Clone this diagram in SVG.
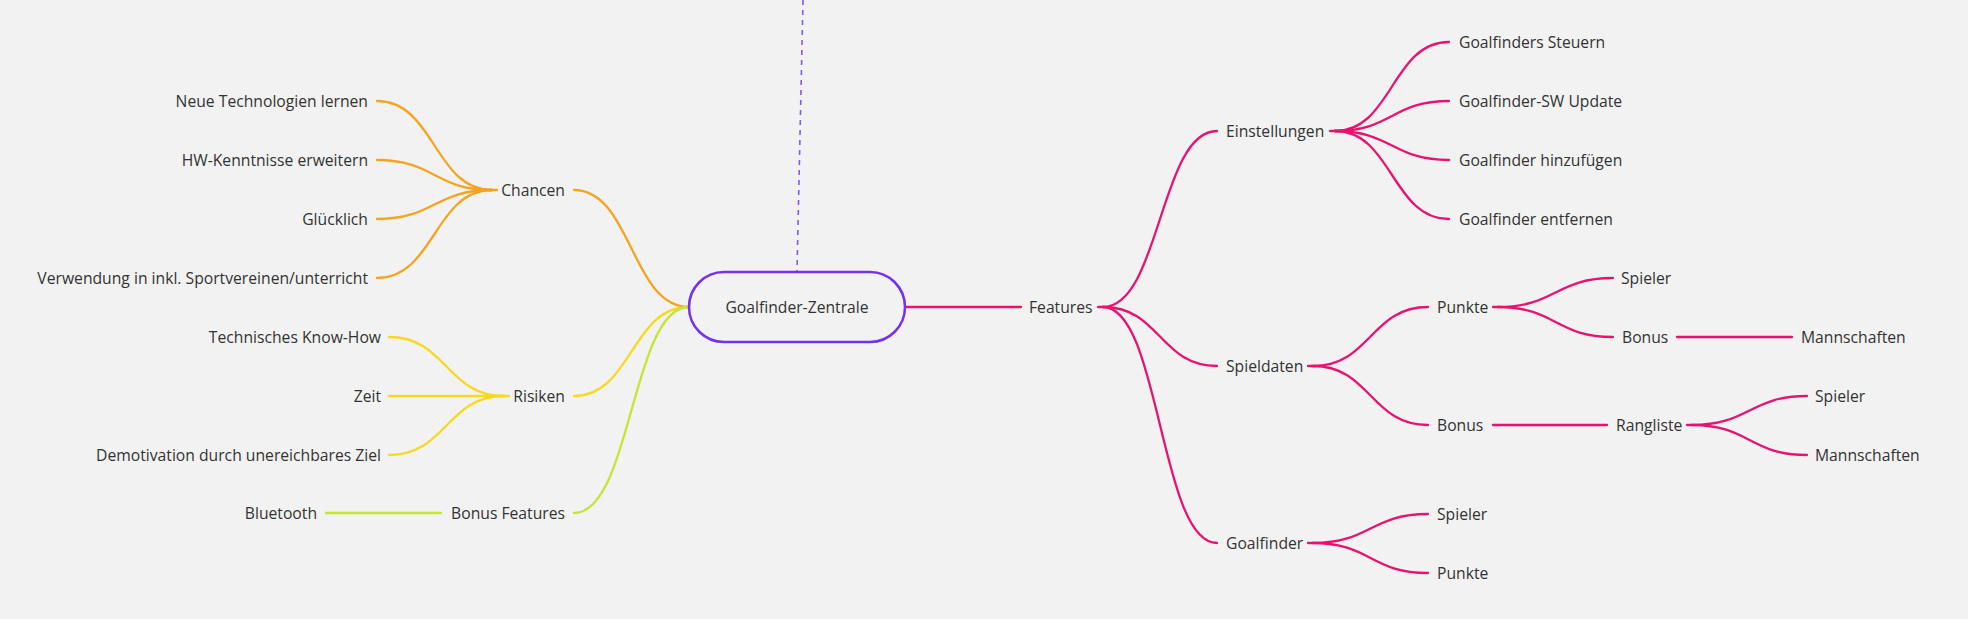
<svg xmlns="http://www.w3.org/2000/svg" width="1968" height="619" viewBox="0 0 1968 619">
<defs>
<style>
.t{font-family:"Open Sans","Noto Sans","Liberation Sans",sans-serif;font-size:15.7px;fill:#333333}
.e{text-anchor:end}
.m{text-anchor:middle}
.c{fill:none;stroke-width:2.3;stroke-linecap:round}
.or{stroke:#F4A51F}
.ye{stroke:#F7D920}
.li{stroke:#C3E533}
.pk{stroke:#E8136F}
</style>
</defs>
<rect width="1968" height="619" fill="#F2F2F2"/>
<g id="connectors">
<line x1="803" y1="0" x2="797" y2="271" stroke="#8457EE" stroke-width="1.6" stroke-dasharray="5,5"/>
<g class="c or">
<path d="M492,190 C434.5,190 434.5,101 377,101"/>
<path d="M492,190 C434.5,190 434.5,160 377,160"/>
<path d="M492,190 C434.5,190 434.5,219 377,219"/>
<path d="M492,190 C434.5,190 434.5,278 377,278"/>
<line x1="492" y1="190" x2="497" y2="190"/>
<path d="M689,307 C631.5,307 631.5,190 574,190"/>
</g>
<g class="c ye">
<path d="M504,396 C446.5,396 446.5,337 389,337"/>
<path d="M504,396 L389,396"/>
<path d="M504,396 C446.5,396 446.5,455 389,455"/>
<line x1="504" y1="396" x2="509" y2="396"/>
<path d="M689,307 C631.5,307 631.5,396 574,396"/>
</g>
<g class="c li">
<path d="M326,513 L441,513"/>
<path d="M689,307 C631.5,307 631.5,513 574,513"/>
</g>
<g class="c pk">
<path d="M905,307 L1021,307"/>
<path d="M1103,307 C1160,307 1160,131 1217,131"/>
<path d="M1103,307 C1160,307 1160,366 1217,366"/>
<path d="M1103,307 C1160,307 1160,543 1217,543"/>
<line x1="1098" y1="307" x2="1103" y2="307"/>
<path d="M1335,131 C1392,131 1392,42 1449,42"/>
<path d="M1335,131 C1392,131 1392,101 1449,101"/>
<path d="M1335,131 C1392,131 1392,160 1449,160"/>
<path d="M1335,131 C1392,131 1392,219 1449,219"/>
<line x1="1330" y1="131" x2="1335" y2="131"/>
<path d="M1313,366 C1370.5,366 1370.5,307 1428,307"/>
<path d="M1313,366 C1370.5,366 1370.5,425 1428,425"/>
<line x1="1308" y1="366" x2="1313" y2="366"/>
<path d="M1498,307 C1555.5,307 1555.5,278 1613,278"/>
<path d="M1498,307 C1555.5,307 1555.5,337 1613,337"/>
<line x1="1493" y1="307" x2="1498" y2="307"/>
<path d="M1677,337 L1792,337"/>
<path d="M1493,425 L1607,425"/>
<path d="M1692,425 C1749.5,425 1749.5,396 1807,396"/>
<path d="M1692,425 C1749.5,425 1749.5,455 1807,455"/>
<line x1="1687" y1="425" x2="1692" y2="425"/>
<path d="M1313,543 C1370.5,543 1370.5,514 1428,514"/>
<path d="M1313,543 C1370.5,543 1370.5,573 1428,573"/>
<line x1="1308" y1="543" x2="1313" y2="543"/>
</g>
</g>
<g id="center">
<rect x="689" y="272" width="216" height="70" rx="35" ry="35" fill="#F2F2F2" stroke="#7431EE" stroke-width="2.5"/>
<text class="t m" x="797" y="312.5">Goalfinder-Zentrale</text>
</g>
<g id="chancen"><text class="t e" x="565" y="195.5">Chancen</text></g>
<g id="chancen-1"><text class="t e" x="368" y="106.5">Neue Technologien lernen</text></g>
<g id="chancen-2"><text class="t e" x="368" y="165.5">HW-Kenntnisse erweitern</text></g>
<g id="chancen-3"><text class="t e" x="368" y="224.5">Glücklich</text></g>
<g id="chancen-4"><text class="t e" x="368" y="283.5">Verwendung in inkl. Sportvereinen/unterricht</text></g>
<g id="risiken"><text class="t e" x="565" y="401.5">Risiken</text></g>
<g id="risiken-1"><text class="t e" x="381" y="342.5">Technisches Know-How</text></g>
<g id="risiken-2"><text class="t e" x="381" y="401.5">Zeit</text></g>
<g id="risiken-3"><text class="t e" x="381" y="460.5">Demotivation durch unereichbares Ziel</text></g>
<g id="bonus-features"><text class="t e" x="565" y="518.5">Bonus Features</text></g>
<g id="bluetooth"><text class="t e" x="317" y="518.5">Bluetooth</text></g>
<g id="features"><text class="t" x="1029" y="312.5">Features</text></g>
<g id="einstellungen"><text class="t" x="1226" y="136.5">Einstellungen</text></g>
<g id="einst-1"><text class="t" x="1459" y="47.5">Goalfinders Steuern</text></g>
<g id="einst-2"><text class="t" x="1459" y="106.5">Goalfinder-SW Update</text></g>
<g id="einst-3"><text class="t" x="1459" y="165.5">Goalfinder hinzufügen</text></g>
<g id="einst-4"><text class="t" x="1459" y="224.5">Goalfinder entfernen</text></g>
<g id="spieldaten"><text class="t" x="1226" y="371.5">Spieldaten</text></g>
<g id="sd-punkte"><text class="t" x="1437" y="312.5">Punkte</text></g>
<g id="sd-punkte-spieler"><text class="t" x="1621" y="283.5">Spieler</text></g>
<g id="sd-punkte-bonus"><text class="t" x="1622" y="342.5">Bonus</text></g>
<g id="sd-punkte-bonus-mannschaften"><text class="t" x="1801" y="342.5">Mannschaften</text></g>
<g id="sd-bonus"><text class="t" x="1437" y="430.5">Bonus</text></g>
<g id="rangliste"><text class="t" x="1616" y="430.5">Rangliste</text></g>
<g id="rangliste-spieler"><text class="t" x="1815" y="401.5">Spieler</text></g>
<g id="rangliste-mannschaften"><text class="t" x="1815" y="460.5">Mannschaften</text></g>
<g id="goalfinder"><text class="t" x="1226" y="548.5">Goalfinder</text></g>
<g id="gf-spieler"><text class="t" x="1437" y="519.5">Spieler</text></g>
<g id="gf-punkte"><text class="t" x="1437" y="578.5">Punkte</text></g>
</svg>
